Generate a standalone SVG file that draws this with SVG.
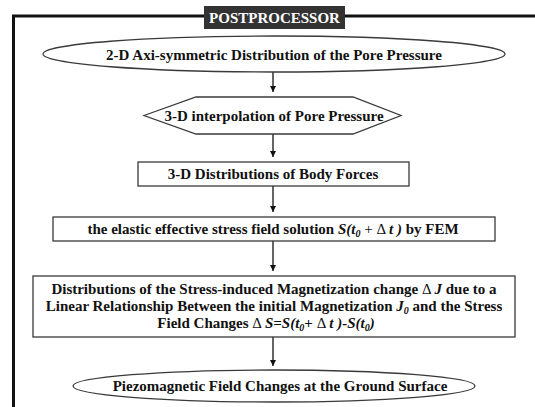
<svg xmlns="http://www.w3.org/2000/svg" width="535" height="407" viewBox="0 0 535 407">
<style>
.sh{fill:#fff;stroke:#3a3a3a;stroke-width:1.3}
.t{font-family:'Liberation Serif','DejaVu Serif',serif;font-weight:bold;font-size:15px;fill:#111;text-anchor:middle}
.i{font-style:italic}
.d{font-weight:normal;font-style:normal}
.sub{font-size:10px}
.c{stroke:#111;stroke-width:1.3;fill:none}
</style>
<defs>
<marker id="ah" viewBox="0 0 8 8" refX="8" refY="4" markerWidth="6" markerHeight="6" markerUnits="userSpaceOnUse" orient="auto">
<path d="M0,0 L8,4 L0,8 Z" fill="#111"/>
</marker>
</defs>
<rect width="535" height="407" fill="#fff"/>
<g id="frame">
<path d="M13.5,407 V16 H535" fill="none" stroke="#111" stroke-width="3"/>
<rect x="204" y="6" width="141" height="23" fill="#333"/>
<text class="t" x="274.5" y="23" font-family="Liberation Serif, serif" style="fill:#fff">POSTPROCESSOR</text>
</g>
<g id="connectors">
<line class="c" x1="273" y1="72" x2="273" y2="92" marker-end="url(#ah)"/>
<line class="c" x1="273" y1="134" x2="273" y2="157" marker-end="url(#ah)"/>
<line class="c" x1="273" y1="186" x2="273" y2="212" marker-end="url(#ah)"/>
<line class="c" x1="273" y1="241" x2="273" y2="271" marker-end="url(#ah)"/>
<line class="c" x1="273" y1="337" x2="273" y2="366" marker-end="url(#ah)"/>
</g>
<g id="n1">
<ellipse class="sh" cx="274" cy="54" rx="231" ry="18"/>
<text class="t" x="274" y="59.5" font-family="Liberation Serif, serif">2-D Axi-symmetric Distribution of the Pore Pressure</text>
</g>
<g id="n2">
<polygon class="sh" points="144,115.5 196,97 353,97 401,115.5 353,134 196,134"/>
<text class="t" x="274" y="120.5" font-family="Liberation Serif, serif">3-D interpolation of Pore Pressure</text>
</g>
<g id="n3">
<rect class="sh" x="138" y="162" width="271" height="24"/>
<text class="t" x="273" y="179" font-family="Liberation Serif, serif">3-D Distributions of Body Forces</text>
</g>
<g id="n4">
<rect class="sh" x="53" y="217" width="442" height="24"/>
<text class="t" x="273" y="234" font-family="Liberation Serif, serif">the elastic effective stress field solution <tspan class="i">S(t<tspan class="sub" dy="3">0</tspan></tspan><tspan dy="-3" class="d"> + Δ </tspan><tspan class="i">t )</tspan> by FEM</text>
</g>
<g id="n5">
<rect class="sh" x="33" y="276" width="482" height="61"/>
<text class="t" x="274" y="294" font-family="Liberation Serif, serif">Distributions of the Stress-induced Magnetization change <tspan class="d"> Δ </tspan><tspan class="i">J</tspan> due to a</text>
<text class="t" x="274" y="311" font-family="Liberation Serif, serif">Linear Relationship Between the initial Magnetization <tspan class="i">J<tspan class="sub" dy="3">0</tspan></tspan><tspan dy="-3"> and the Stress</tspan></text>
<text class="t" x="266" y="328" font-family="Liberation Serif, serif">Field Changes <tspan class="d"> Δ </tspan><tspan class="i">S=S(t<tspan class="sub" dy="3">0</tspan></tspan><tspan dy="-3">+</tspan><tspan class="d"> Δ </tspan><tspan class="i">t )-S(t<tspan class="sub" dy="3">0</tspan><tspan dy="-3">)</tspan></tspan></text>
</g>
<g id="n6">
<ellipse class="sh" cx="274" cy="386" rx="201" ry="16"/>
<text class="t" x="280" y="391" font-family="Liberation Serif, serif">Piezomagnetic Field Changes at the Ground Surface</text>
</g>
</svg>
